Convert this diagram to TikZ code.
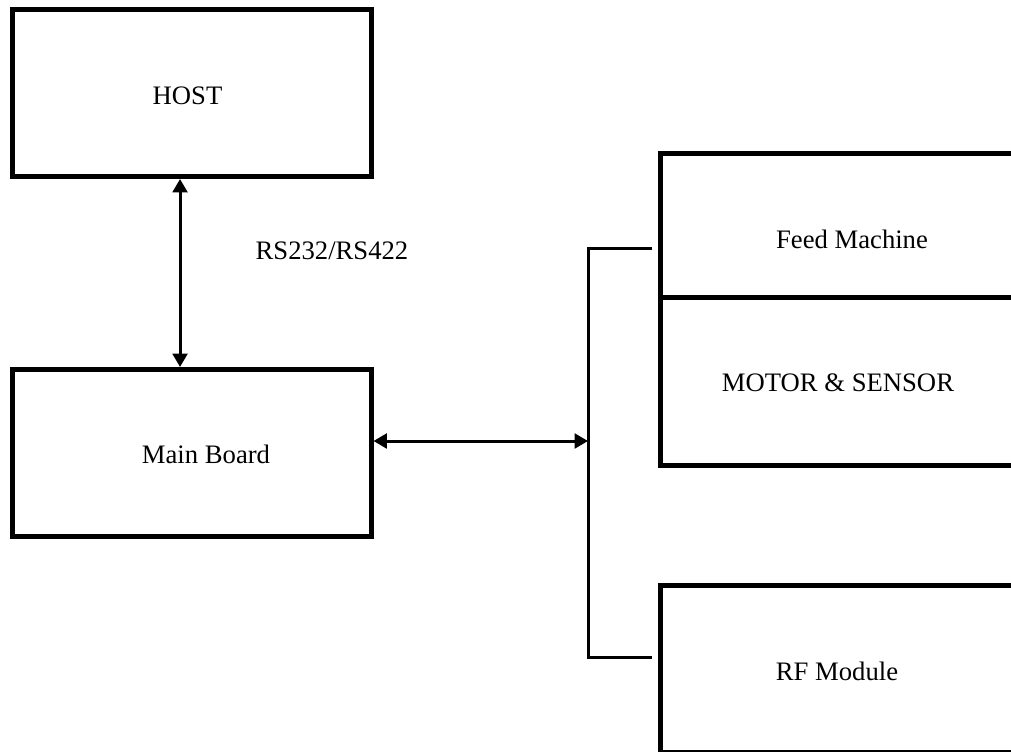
\documentclass[tikz,border=0pt]{standalone}
\usepackage{fontspec}
\setmainfont{Liberation Serif}
\usetikzlibrary{arrows.meta,positioning,calc}
\tikzset{block/.style={draw,line width=3.75pt,fill=white,inner sep=0pt},tag/.style={font=\fontsize{20}{24}\selectfont,inner sep=0pt,anchor=base}}

\begin{document}
\begin{tikzpicture}[x=0.75pt,y=-0.75pt,
  unit/.style={block,minimum width=269.25pt,minimum height=125.25pt},
  panel/.style={block,minimum width=273.75pt},
  link/.style={{Triangle[length=10pt,width=11pt]}-{Triangle[length=10pt,width=11pt]},line width=2.25pt},
  bus/.style={line width=2.25pt}]
\useasboundingbox (0,0) rectangle (1011,751);
\clip (0,0) rectangle (1011,751);
% Left column
\node[unit] (host) at (191.5,93) {};
\node[unit] (main) at (191.5,453) {};
\node[tag] (hosttext) at (187.5,104) {HOST};
\node[tag] (maintext) at (206,463) {Main Board};
\draw[link] ([xshift=-8.6pt]host.south)--([xshift=-8.6pt]main.north);
\node[tag] (iface) at (332,259) {RS232/RS422};
% Right column (open to the page edge)
\node[panel,minimum height=108pt] (feed) at (842.5,225) {};
\node[panel,minimum height=126pt] (motor) at (842.5,381) {};
\node[panel,minimum height=125.25pt] (rf) at (842.5,668.5) {};
\node[tag] (feedtext) at (852,248) {Feed Machine};
\node[tag] (motortext) at (838,391) {MOTOR \& SENSOR};
\node[tag] (rftext) at (837,680) {RF Module};
% Bus
\coordinate (bustop) at (588,248);
\coordinate (busbot) at (588,657);
\draw[bus] ([xshift=-4.5pt]feed.west |- bustop)--(bustop)--(busbot)--([xshift=-4.5pt]rf.west |- busbot);
\draw[link] ([yshift=9pt]main.east)--([yshift=9pt]main.east -| bustop);
\end{tikzpicture}
\end{document}
